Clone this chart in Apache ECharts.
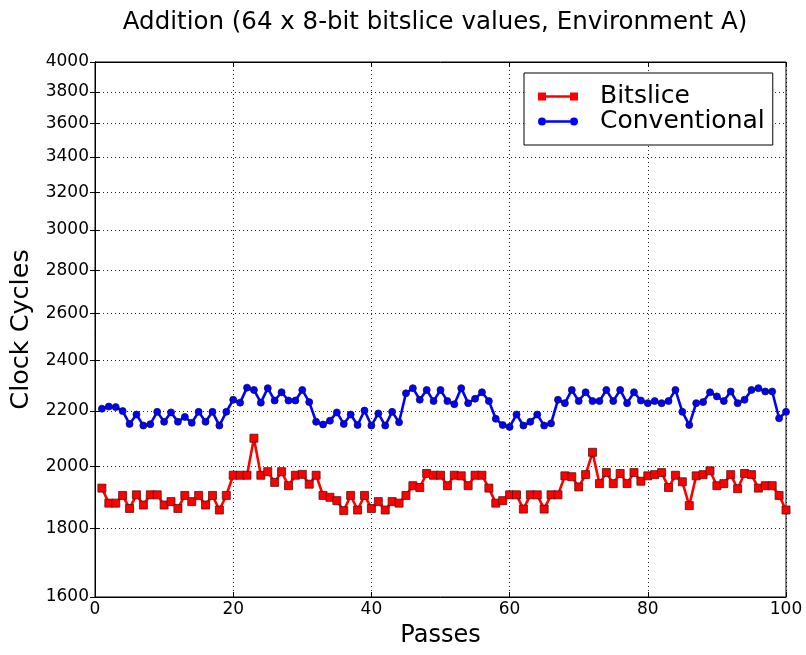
<!DOCTYPE html>
<html>
<head>
<meta charset="utf-8">
<script src="https://cdn.jsdelivr.net/npm/echarts@6/dist/echarts.min.js"></script>
<style>html,body{margin:0;padding:0;background:#fff;}#c{width:806px;height:655px;}</style>
</head>
<body>
<div id="c"></div>
<script>
const passes = [1,2,3,4,5,6,7,8,9,10,11,12,13,14,15,16,17,18,19,20,
21,22,23,24,25,26,27,28,29,30,31,32,33,34,35,36,37,38,39,40,
41,42,43,44,45,46,47,48,49,50,51,52,53,54,55,56,57,58,59,60,
61,62,63,64,65,66,67,68,69,70,71,72,73,74,75,76,77,78,79,80,
81,82,83,84,85,86,87,88,89,90,91,92,93,94,95,96,97,98,99,100];

const bitslice = [1928,1879,1879,1904,1862,1906,1873,1906,1906,1873,1884,1862,1904,1884,1904,1873,1904,1857,1904,1971,
1971,1971,2100,1971,1983,1947,1983,1936,1971,1974,1941,1971,1904,1898,1887,1855,1904,1857,1904,1862,
1884,1857,1884,1879,1904,1936,1930,1977,1971,1971,1936,1971,1969,1936,1971,1971,1928,1879,1887,1906,
1906,1860,1906,1906,1860,1906,1906,1969,1966,1932,1973,2050,1943,1980,1943,1977,1943,1980,1951,1969,
1973,1980,1930,1971,1949,1871,1969,1973,1986,1936,1943,1973,1926,1977,1973,1928,1936,1936,1904,1857];

const conventional = [2209,2217,2215,2200,2152,2187,2146,2151,2197,2160,2195,2160,2178,2156,2197,2160,2197,2146,2197,2243,
2232,2290,2281,2232,2288,2240,2272,2240,2240,2281,2234,2160,2150,2164,2195,2152,2187,2148,2202,2146,
2191,2146,2197,2158,2268,2288,2243,2281,2238,2281,2238,2226,2288,2230,2247,2272,2238,2171,2148,2141,
2187,2146,2160,2187,2146,2154,2243,2230,2281,2238,2272,2238,2238,2281,2238,2281,2230,2272,2240,2230,
2238,2230,2238,2281,2197,2148,2230,2234,2272,2256,2238,2275,2230,2243,2281,2288,2275,2275,2173,2197];

const yTicks = [1600,1800,2000,2200,2400,2600,2800,3000,3200,3400,3600,3800,4000];
const xTicksInterval = 20;

const FONT = 'DejaVu Sans';
const chart = echarts.init(document.getElementById('c'), null, {renderer: 'canvas'});

function pairs(ys){ return passes.map((x,i)=>[x, ys[i]]); }

const gridLine = {show:true, lineStyle:{color:'#000', type:[1,3], width:1, opacity:0.85}};
const iconSquares = 'path://M0,0H8V2.8H32V0H40V8H32V5.2H8V8H0Z';
const iconCircles = 'path://M0,4A4,4,0,1,1,8,4A4,4,0,1,1,0,4Z M8,2.8H32V5.2H8Z M32,4A4,4,0,1,1,40,4A4,4,0,1,1,32,4Z';

chart.setOption({
  animation:false,
  backgroundColor:'#fff',
  textStyle:{fontFamily:FONT},
  title:{
    text:'Addition (64 x 8-bit bitslice values, Environment A)',
    left:430, top:5, textAlign:'center',
    textStyle:{fontFamily:FONT, fontSize:24.5, fontWeight:'normal', color:'#000'}
  },
  grid:{left:95, right:20, top:62, bottom:58, show:true, borderColor:'#000', borderWidth:1},
  legend:{
    left:524, top:73, orient:'vertical',
    backgroundColor:'#fff', borderColor:'#000', borderWidth:1,
    padding:[11,8,11,14], itemGap:0, itemWidth:40, itemHeight:8,
    textStyle:{fontFamily:FONT, fontSize:25, lineHeight:22, color:'#000', padding:[0,0,0,17]},
    data:[
      {name:'Bitslice', icon:iconSquares, itemStyle:{color:'#ff0000', borderWidth:0}},
      {name:'Conventional', icon:iconCircles, itemStyle:{color:'#0000ff', borderWidth:0}}
    ]
  },
  xAxis:[{
    type:'value', min:0, max:100, interval:xTicksInterval,
    name:'Passes', nameLocation:'middle', nameGap:27,
    nameTextStyle:{fontFamily:FONT, fontSize:24, color:'#000'},
    axisLine:{show:true, lineStyle:{color:'#000', width:1}},
    axisTick:{show:true, inside:true, length:5, lineStyle:{color:'#000'}},
    axisLabel:{fontFamily:FONT, fontSize:17, color:'#000', margin:4},
    splitLine:gridLine
  },{
    type:'value', min:0, max:100, interval:xTicksInterval, position:'top',
    axisLine:{show:true, lineStyle:{color:'#000', width:1}},
    axisTick:{show:true, inside:true, length:5, lineStyle:{color:'#000'}},
    axisLabel:{show:false}, splitLine:{show:false}
  }],
  yAxis:[{
    type:'log', min:1600, max:4000,
    name:'Clock Cycles', nameLocation:'middle', nameGap:60,
    nameTextStyle:{fontFamily:FONT, fontSize:25.5, color:'#000'},
    axisLine:{show:true, lineStyle:{color:'#000', width:1}},
    axisTick:{show:true, inside:true, length:5, lineStyle:{color:'#000'}, customValues:yTicks},
    axisLabel:{fontFamily:FONT, fontSize:17, color:'#000', margin:6, customValues:yTicks,
      formatter:function(v){ return String(Math.round(v)); }},
    splitLine:gridLine
  },{
    type:'log', min:1600, max:4000, position:'right',
    axisLine:{show:true, lineStyle:{color:'#000', width:1}},
    axisTick:{show:true, inside:true, length:5, lineStyle:{color:'#000'}, customValues:yTicks},
    axisLabel:{show:false, customValues:yTicks}, splitLine:{show:false}
  }],
  series:[{
    name:'Bitslice', type:'line', xAxisIndex:0, yAxisIndex:0,
    data:pairs(bitslice),
    symbol:'rect', symbolSize:8, showAllSymbol:true,
    lineStyle:{color:'#ff0000', width:2.6},
    itemStyle:{color:'#ff0000', borderColor:'#5a1010', borderWidth:0.8},
    z:3
  },{
    name:'Conventional', type:'line', xAxisIndex:0, yAxisIndex:0,
    data:pairs(conventional),
    symbol:'circle', symbolSize:7, showAllSymbol:true,
    lineStyle:{color:'#0000ff', width:2.6},
    itemStyle:{color:'#0000ff', borderColor:'#10105a', borderWidth:0.8},
    z:3
  }]
});
</script>
</body>
</html>
